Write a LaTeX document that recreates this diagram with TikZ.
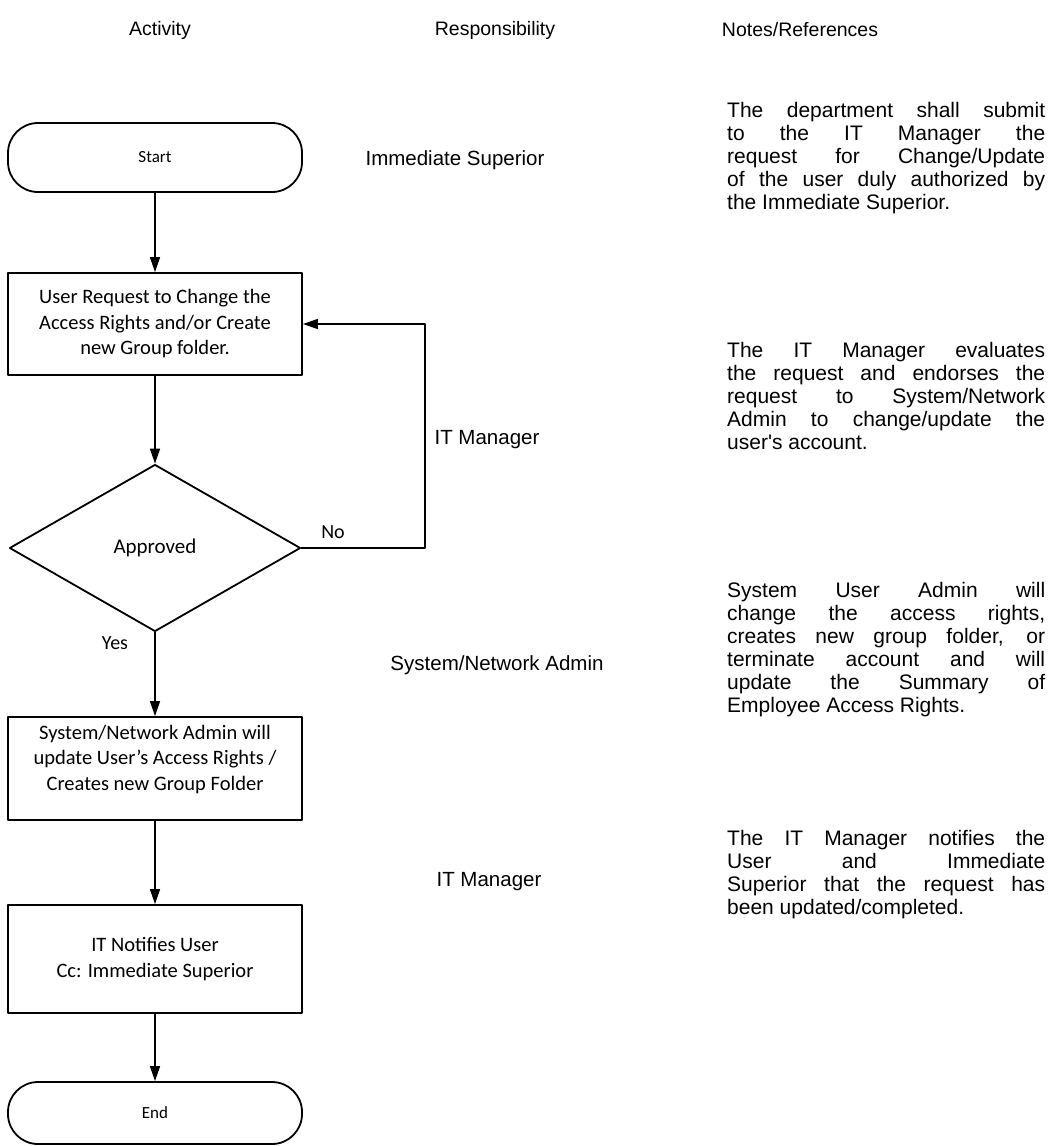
\documentclass[tikz,border=0pt]{standalone}
\usepackage{fontspec}
\setmainfont{Liberation Sans}
\newfontfamily\calibri{Carlito}
\usetikzlibrary{arrows.meta,shapes.geometric}
% forced line ends in the notes: no hyphens, any stretch allowed
\tolerance=10000
\hyphenpenalty=10000
\hbadness=10000

\tikzset{
  stepbox/.style={draw, line width=1.8pt, minimum width=294pt, align=center, inner sep=0pt,
    font=\calibri\fontsize{20.5}{25.5}\selectfont},
  terminal/.style={stepbox, rounded corners=30pt, font=\calibri\fontsize{17}{20}\selectfont},
  decision/.style={diamond, draw, line width=1.8pt, minimum width=291pt, minimum height=167pt,
    inner sep=0pt, font=\calibri\fontsize{21}{25}\selectfont},
  flow/.style={line width=1.4pt, -{Triangle[length=15pt,width=10pt]}},
  colhead/.style={font=\fontsize{19.5}{23}\selectfont},
  role/.style={font=\fontsize{20.5}{24}\selectfont},
  branch/.style={font=\calibri\fontsize{20}{24}\selectfont},
  note/.style={anchor=north west, inner sep=0pt, text width=318pt, align=justify,
    font=\fontsize{21}{23}\selectfont}
}

\begin{document}
\begin{tikzpicture}[x=1pt, y=-1pt, line cap=round, line join=round]

  %% ════ column heads ════
  \node[colhead] (hactivity) at (160,30) {Activity};
  \node[colhead] (hrole)     at (495,30) {Responsibility};
  \node[colhead] (hnotes)    at (800,30) {Notes/References};

  %% ════ activity column ════
  \node[terminal, minimum height=69pt]  (start)    at (155,157.5) {Start};
  \node[stepbox, minimum height=102pt]  (request)  at (155,324)
    {User Request to Change the\\Access Rights and/or Create\\new Group folder.};
  \node[decision]                       (approved) at (155,548) {Approved};
  \node[stepbox, minimum height=103pt]  (update)   at (155,768.5)
    {System/Network Admin will\\update User’s Access Rights /\\Creates new Group Folder\\[-4pt]\mbox{}};
  \node[stepbox, minimum height=108pt]  (notify)   at (155,959)
    {IT Notifies User\\Cc: Immediate Superior};
  \node[terminal, minimum height=62pt]  (finish)   at (155,1113) {End};

  %% ════ connectors ════
  \draw[flow] (start) -- (request);
  \draw[flow] (request) -- (approved);
  \draw[flow] (approved) -- (update);
  \draw[flow] (update) -- (notify);
  \draw[flow] (notify) -- (finish);
  % "No" loops back up to the request box
  \coordinate (noturn) at (425,548);
  \draw[flow] (approved.east) -- (noturn) |- (request.east);

  \node[branch] (no)  at (333,532) {No};
  \node[branch] (yes) at (115,643) {Yes};

  %% ════ responsibility column ════
  \node[role] (rsuperior) at (455,160) {Immediate Superior};
  \node[role] (rmanager)  at (487,440) {IT Manager};
  \node[role] (radmin)    at (497,665) {System/Network Admin};
  \node[role] (rnotify)   at (489,882) {IT Manager};

  %% ════ notes column ════
  \node[note] (nsubmit) at (727,102) {The department shall submit\linebreak
    to the IT Manager the\linebreak request for Change/Update\linebreak
    of the user duly authorized by\linebreak the Immediate Superior.};
  \node[note] (nevaluate) at (727,342) {The IT Manager evaluates\linebreak
    the request and endorses the\linebreak request to System/Network\linebreak
    Admin to change/update the\linebreak user\textquotesingle s account.};
  \node[note] (nchange) at (727,582) {System User Admin will\linebreak
    change the access rights,\linebreak creates new group folder, or\linebreak
    terminate account and will\linebreak update the Summary of\linebreak
    Employee Access Rights.};
  \node[note] (nnotify) at (727,830) {The IT Manager notifies the\linebreak
    User and Immediate\linebreak Superior that the request has\linebreak
    been updated/completed.};

  % fix the canvas to the reference size
  \pgfresetboundingbox
  \path[use as bounding box] (0,0) rectangle (1059,1146);
\end{tikzpicture}
\end{document}
